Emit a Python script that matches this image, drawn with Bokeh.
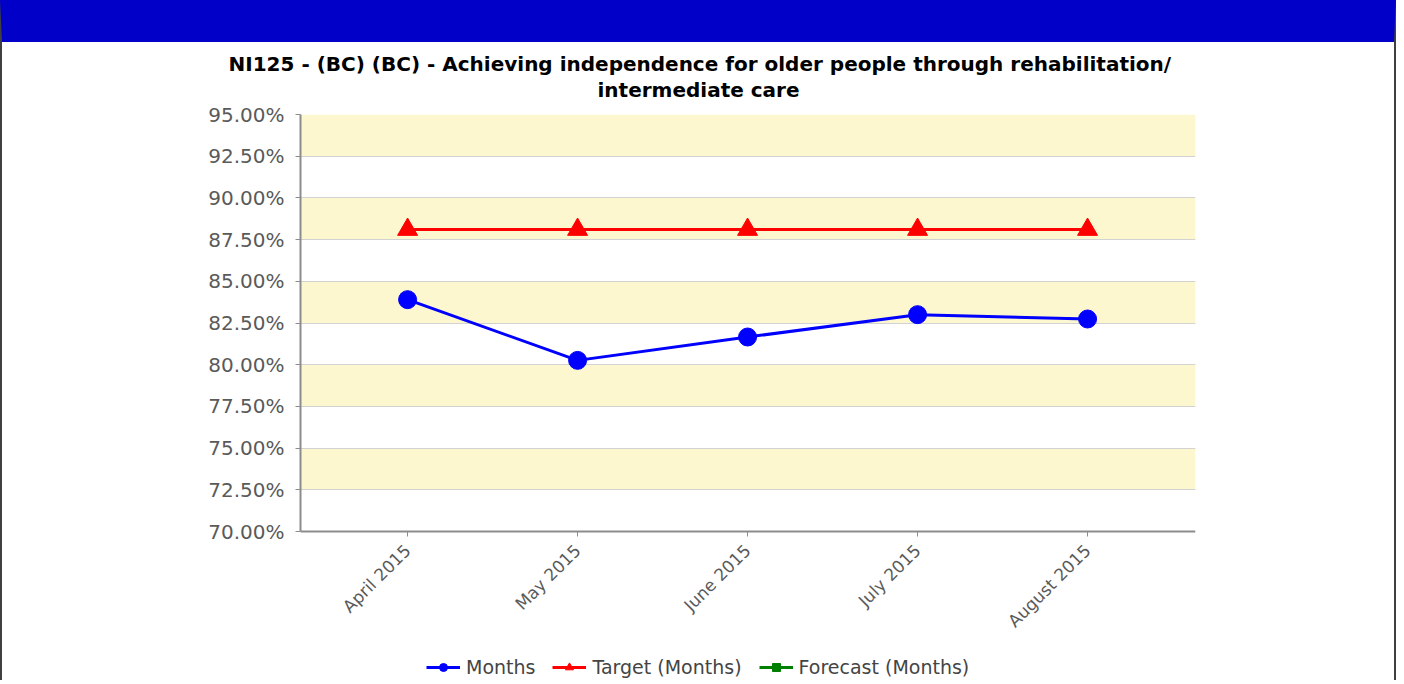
import math
from bokeh.plotting import figure
from bokeh.models import (Range1d, FixedTicker, PrintfTickFormatter, BoxAnnotation,
                          Legend, LegendItem, ColumnDataSource, Title)
from bokeh.embed import file_html
from bokeh.resources import INLINE

# ---- data ----
months = ["April 2015", "May 2015", "June 2015", "July 2015", "August 2015"]
actual = [83.9, 80.26, 81.66, 83.0, 82.74]
target = [88.1, 88.1, 88.1, 88.1, 88.1]
forecast = [None, None, None, None, None]   # no forecast values shown
y_ticks = [70.0, 72.5, 75.0, 77.5, 80.0, 82.5, 85.0, 87.5, 90.0, 92.5, 95.0]
series_names = ["Months", "Target (Months)", "Forecast (Months)"]
series_colors = ["#0000FF", "#FF0000", "#008000"]
series_markers = ["circle", "triangle", "square"]
title_lines = ["NI125 - (BC) (BC) - Achieving independence for older people through rehabilitation/",
               "intermediate care"]

FONT = "DejaVu Sans"
BAR = 42                         # blue header bar (css border)
CW = 1392                        # canvas width
FL, FW, FT = 298, 895, 72        # frame left, width, top
PLOT_H = 417                     # height of the 70%..95% value area
EXTRA = 149                      # room below the value area for x labels and legend
FH = PLOT_H + EXTRA
FR = CW - FL - FW

y_lo = y_ticks[0] - EXTRA * (y_ticks[-1] - y_ticks[0]) / PLOT_H

xs = list(range(len(months)))
p = figure(frame_width=FW, frame_height=FH,
           min_border_left=FL, min_border_right=FR, min_border_top=FT, min_border_bottom=0,
           x_range=Range1d(-0.63, len(months) - 1 + 0.635),
           y_range=Range1d(y_lo, y_ticks[-1]),
           output_backend="svg", toolbar_location=None, title=None,
           styles={"border-top": f"{BAR}px solid #0000C8",
                   "border-left": "2px solid #404040",
                   "border-right": "2px solid #404040"})
p.outline_line_color = None
p.background_fill_color = "white"
p.border_fill_color = "white"

# alternating bands
bands = [BoxAnnotation(bottom=lo, top=hi, fill_color="#FDF7D0", fill_alpha=1.0,
                       line_alpha=0, level="underlay")
         for lo, hi in zip(y_ticks[1::2], y_ticks[2::2])]
p.center = bands + list(p.center)

p.xgrid.visible = False
p.ygrid.grid_line_color = "#D2D2D2"
p.ygrid.grid_line_width = 1

# axes
p.yaxis.ticker = FixedTicker(ticks=y_ticks)
p.yaxis.formatter = PrintfTickFormatter(format="%.2f%%")
p.yaxis.bounds = (y_ticks[0], y_ticks[-1])
p.xaxis.ticker = FixedTicker(ticks=xs)
p.xaxis.major_label_overrides = {i: m for i, m in enumerate(months)}
p.xaxis.major_label_orientation = math.pi / 4
p.xaxis.fixed_location = y_ticks[0]
for ax in (p.xaxis, p.yaxis):
    ax.axis_line_color = "#8C8C8C"
    ax.axis_line_width = 2
    ax.major_tick_line_color = "#8C8C8C"
    ax.major_tick_line_width = 1
    ax.major_tick_out = 5
    ax.major_tick_in = 0
    ax.minor_tick_line_color = None
    ax.major_label_text_font = FONT
    ax.major_label_text_color = "#5A5A5A"
p.yaxis.major_label_text_font_size = "20px"
p.yaxis.major_label_standoff = 11
p.xaxis.major_label_text_font_size = "17px"
p.xaxis.major_label_standoff = 11

# series
items = []
for name, vals, c, m, sz in zip(series_names, (actual, target, forecast),
                                series_colors, series_markers, (18, 20, 13)):
    src = ColumnDataSource(dict(x=xs, y=[float("nan") if v is None else v for v in vals]))
    r1 = p.line("x", "y", source=src, line_color=c, line_width=3)
    r2 = p.scatter("x", "y", source=src, marker=m, size=sz, fill_color=c, line_color=c)
    items.append(LegendItem(label=name, renderers=[r1, r2]))

legend = Legend(items=items, orientation="horizontal", location=(126, 2),
                border_line_color=None, background_fill_alpha=0,
                label_text_font=FONT, label_text_font_size="19px", label_text_color="#444444",
                glyph_width=34, glyph_height=20, label_standoff=6, spacing=17,
                padding=0, margin=0)
p.add_layout(legend, "center")

# two-line title (closest line added first)
p.add_layout(Title(text=title_lines[1], align="left", offset=297, standoff=25,
                   text_font=FONT, text_font_style="bold", text_font_size="20px",
                   text_color="#000000"), "above")
p.add_layout(Title(text=title_lines[0], align="left", offset=-72, standoff=-24,
                   text_font=FONT, text_font_style="bold", text_font_size="20px",
                   text_color="#000000"), "above")

open("out.html", "w").write(file_html(p, INLINE))
